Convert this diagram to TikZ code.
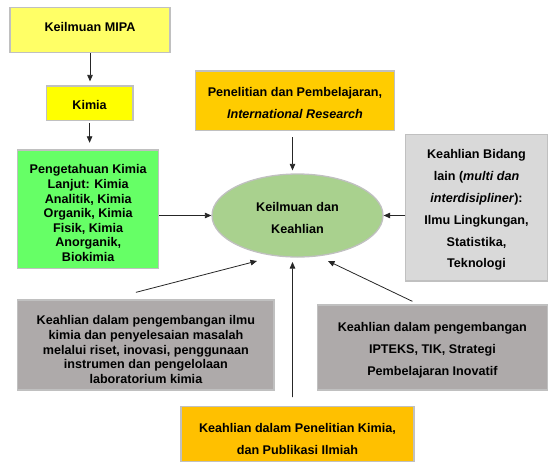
\documentclass[tikz,border=0pt]{standalone}
\usepackage{fontspec}
\setmainfont{Liberation Sans}
\usepackage{tikz}
\usetikzlibrary{arrows.meta,shapes.geometric}
\definecolor{mipaYellow}{HTML}{FFFF66}
\definecolor{kimiaYellow}{HTML}{FFFF00}
\definecolor{lanjutGreen}{HTML}{66FF66}
\definecolor{risetOrange}{HTML}{FFCC00}
\definecolor{intiGreen}{HTML}{A9D18E}
\definecolor{bidangGray}{HTML}{D9D9D9}
\definecolor{ahliGray}{HTML}{AEAAAA}
\definecolor{pubOrange}{HTML}{FFC000}
\definecolor{rimGray}{HTML}{C0C0C0}
\newcommand{\topgap}[1]{\rule{0pt}{#1}}

\begin{document}
\begin{tikzpicture}[x=1pt, y=-1pt, >={Triangle[length=6.5pt,width=5.5pt]},
  box/.style={draw=rimGray, line width=1.3pt, inner sep=0pt, align=center,
    font=\bfseries\fontsize{12.6}{14.6}\selectfont},
  airy/.style={font=\bfseries\fontsize{12.6}{21.8}\selectfont},
  link/.style={->, line width=0.8pt, black!85}]
  \useasboundingbox (0,0) rectangle (556,469);
  \node[box, fill=mipaYellow, minimum width=160pt, minimum height=45.5pt]
    (mipa) at (90,30) {\rule[-5.5pt]{0pt}{5.5pt}Keilmuan MIPA};
  \node[box, fill=kimiaYellow, minimum width=86.7pt, minimum height=34.7pt]
    (kimia) at (89.6,103.4) {\topgap{12.5pt}Kimia};
  \node[box, fill=lanjutGreen, minimum width=141pt, minimum height=118.7pt]
    (lanjut) at (88.2,209.3) {\topgap{17pt}Pengetahuan Kimia\\Lanjut: Kimia\\Analitik, Kimia\\Organik, Kimia\\Fisik, Kimia\\Anorganik,\\Biokimia};
  \node[box, airy, fill=risetOrange, minimum width=198.6pt, minimum height=59.7pt]
    (riset) at (295,100.8) {\topgap{14pt}Penelitian dan Pembelajaran,\\\textit{International Research}};
  \node[box, airy, ellipse, fill=intiGreen, minimum width=171pt, minimum height=83pt]
    (inti) at (297.5,215.5) {\topgap{14pt}Keilmuan dan\\Keahlian};
  \node[box, airy, fill=bidangGray, minimum width=141.6pt, minimum height=146.7pt]
    (bidang) at (476.5,207.7) {\topgap{14pt}Keahlian Bidang\\lain (\textit{multi dan}\\\textit{interdisipliner}):\\Ilmu Lingkungan,\\Statistika,\\Teknologi};
  \node[box, fill=ahliGray, minimum width=256.2pt, minimum height=90pt]
    (ilmu) at (145.9,345) {\topgap{18.5pt}Keahlian dalam pengembangan ilmu\\kimia dan penyelesaian masalah\\melalui riset, inovasi, penggunaan\\instrumen dan pengelolaan\\laboratorium kimia};
  \node[box, airy, fill=ahliGray, minimum width=230pt, minimum height=85pt]
    (ipteks) at (432.4,347.5) {\topgap{14pt}Keahlian dalam pengembangan\\IPTEKS, TIK, Strategi\\Pembelajaran Inovatif};
  \node[box, airy, fill=pubOrange, minimum width=233pt, minimum height=55pt]
    (publikasi) at (297.4,434.2) {\topgap{19pt}Keahlian dalam Penelitian Kimia,\\dan Publikasi Ilmiah};
  \coordinate (in1) at (257,261);
  \coordinate (in2) at (292.5,262);
  \coordinate (in3) at (328,261);
  \draw[link, shorten >=4pt] (mipa.south) -- (mipa.south |- kimia.north);
  \draw[link, shorten <=2pt, shorten >=6.5pt] (kimia.south) -- (kimia.south |- lanjut.north);
  \draw[link] (inti.west -| lanjut.east) -- (inti.west);
  \draw[link] (inti.east -| bidang.west) -- (inti.east);
  \draw[link] ([xshift=-2.5pt, yshift=-6pt]riset.south) -- ([xshift=-5pt, yshift=3pt]inti.north);
  \draw[link] ([xshift=-10pt, yshift=7pt]ilmu.north) -- (in1);
  \draw[link] ([xshift=-5pt, yshift=9pt]publikasi.north) -- (in2);
  \draw[link] ([xshift=-20pt, yshift=3pt]ipteks.north) -- (in3);
\end{tikzpicture}
\end{document}
